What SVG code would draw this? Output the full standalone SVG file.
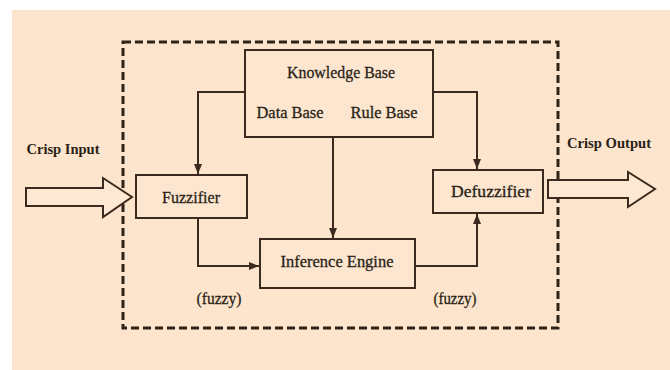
<svg xmlns="http://www.w3.org/2000/svg" width="670" height="370" viewBox="0 0 670 370">
<defs>
<style>
.bg{fill:#fde5cd}
.box{fill:#fde6d0;stroke:#3b2b1e;stroke-width:2}
.ln{fill:none;stroke:#3b2b1e;stroke-width:2}
.dash{fill:none;stroke:#2f2318;stroke-width:3;stroke-dasharray:8 4}
.big{fill:#fde8d4;stroke:#3b2b1e;stroke-width:2;stroke-linejoin:miter}
.t{font-family:"Liberation Serif","Times New Roman",serif;font-size:17px;fill:#2a1f16;stroke:#2a1f16;stroke-width:0.3;text-anchor:middle}
.tb{font-family:"Liberation Serif","Times New Roman",serif;font-size:15px;font-weight:bold;fill:#2a1f16;text-anchor:middle}
</style>
<marker id="ah" viewBox="0 0 10 10" refX="10" refY="5" markerWidth="5" markerHeight="5" orient="auto" markerUnits="strokeWidth">
<path d="M0,1 L10,5 L0,9 z" fill="#3b2b1e"/>
</marker>
</defs>
<rect x="0" y="0" width="670" height="370" fill="#ffffff"/>
<rect class="bg" x="12" y="10" width="658" height="360"/>
<rect class="dash" x="123" y="42" width="435" height="286"/>
<g id="connectors">
<path class="ln" d="M245,92 H198 V174" marker-end="url(#ah)"/>
<path class="ln" d="M433,92 H477 V169" marker-end="url(#ah)"/>
<path class="ln" d="M333,137 V238" marker-end="url(#ah)"/>
<path class="ln" d="M198,218 V266 H259" marker-end="url(#ah)"/>
<path class="ln" d="M415,266 H477 V214" marker-end="url(#ah)"/>
</g>
<g id="crisp-input">
<path class="big" d="M26,188 H103 V178 L132,197 L103,217 V206 H26 Z"/>
<text class="tb" x="63" y="154" textLength="73" lengthAdjust="spacingAndGlyphs">Crisp Input</text>
</g>
<g id="crisp-output">
<path class="big" d="M548,180 H628 V172 L655,189 L628,207 V198 H548 Z"/>
<text class="tb" x="609" y="148" textLength="84" lengthAdjust="spacingAndGlyphs">Crisp Output</text>
</g>
<g id="knowledge-base">
<rect class="box" x="245" y="50" width="188" height="87"/>
<text class="t" x="341" y="78" textLength="108" lengthAdjust="spacingAndGlyphs">Knowledge Base</text>
<text class="t" x="290" y="118" textLength="67" lengthAdjust="spacingAndGlyphs">Data Base</text>
<text class="t" x="384" y="118" textLength="67" lengthAdjust="spacingAndGlyphs">Rule Base</text>
</g>
<g id="fuzzifier">
<rect class="box" x="136" y="175" width="111" height="43"/>
<text class="t" x="191" y="203" textLength="58" lengthAdjust="spacingAndGlyphs">Fuzzifier</text>
</g>
<g id="defuzzifier">
<rect class="box" x="433" y="170" width="110" height="43"/>
<text class="t" x="491" y="197" textLength="80" lengthAdjust="spacingAndGlyphs">Defuzzifier</text>
</g>
<g id="inference-engine">
<rect class="box" x="260" y="239" width="155" height="49"/>
<text class="t" x="337" y="267" textLength="113" lengthAdjust="spacingAndGlyphs">Inference Engine</text>
</g>
<g id="labels">
<text class="t" x="219" y="304" textLength="45" lengthAdjust="spacingAndGlyphs">(fuzzy)</text>
<text class="t" x="455" y="304" textLength="43" lengthAdjust="spacingAndGlyphs">(fuzzy)</text>
</g>
</svg>
